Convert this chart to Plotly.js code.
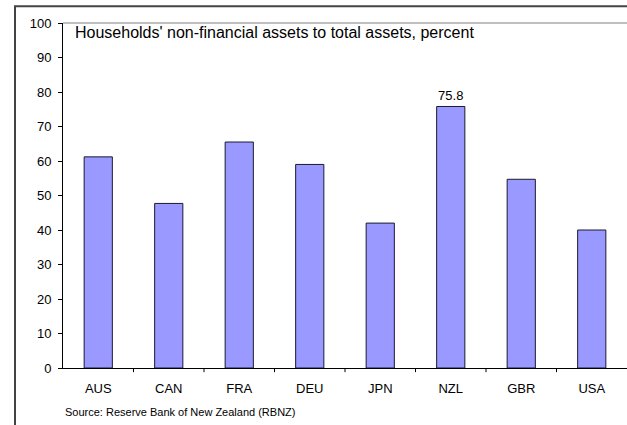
<!DOCTYPE html>
<html>
<head>
<meta charset="utf-8">
<script src="https://cdn.plot.ly/plotly-3.0.1.min.js"></script>
<style>
html,body{margin:0;padding:0;background:#fff;}
#chart{width:627px;height:425px;}
</style>
</head>
<body>
<div id="chart"></div>
<script>
var countries = ['AUS', 'CAN', 'FRA', 'DEU', 'JPN', 'NZL', 'GBR', 'USA'];
var shareNonFinancial = [61.2, 47.7, 65.5, 59.0, 42.0, 75.8, 54.7, 40.0];
var labelledCountry = 'NZL';
var yTicks = [0, 10, 20, 30, 40, 50, 60, 70, 80, 90, 100];
var chartTitle = "Households' non-financial assets to total assets, percent";
var sourceNote = 'Source: Reserve Bank of New Zealand (RBNZ)';

var barLabels = shareNonFinancial.map(function (v, i) {
  return countries[i] === labelledCountry ? v.toFixed(1) : '';
});

var FONT = 'Arial, "Liberation Sans", sans-serif';

var trace = {
  type: 'bar',
  x: countries,
  y: shareNonFinancial,
  width: 0.4,
  marker: { color: '#9999ff', line: { color: '#1a1a33', width: 1 } },
  text: barLabels,
  textposition: 'outside',
  textfont: { family: FONT, size: 13, color: '#000' },
  cliponaxis: false,
  hoverinfo: 'x+y'
};

var layout = {
  width: 627,
  height: 425,
  margin: { l: 63, r: 0, t: 22.7, b: 56.7, pad: 0 },
  paper_bgcolor: '#fff',
  plot_bgcolor: '#fff',
  showlegend: false,
  font: { family: FONT, size: 13, color: '#000' },
  xaxis: {
    type: 'category',
    range: [-0.5, 7.5],
    showline: true, linecolor: '#000', linewidth: 1,
    ticks: '', showgrid: false, zeroline: false,
    tickfont: { family: FONT, size: 13, color: '#000' },
    ticklabelstandoff: 8,
    fixedrange: true
  },
  yaxis: {
    range: [0, 100],
    tickmode: 'array', tickvals: yTicks,
    ticks: 'outside', ticklen: 4, tickcolor: '#000', tickwidth: 1,
    showline: true, linecolor: '#000', linewidth: 1,
    showgrid: false, zeroline: false,
    tickfont: { family: FONT, size: 13, color: '#000' },
    ticklabelstandoff: 4,
    fixedrange: true
  },
  shapes: [
    { type: 'rect', xref: 'paper', yref: 'paper', x0: -0.0851, x1: 1.2, y0: -0.5, y1: 1.0483,
      line: { color: '#444', width: 2 }, layer: 'above' },
    { type: 'line', xref: 'paper', yref: 'paper', x0: 0, x1: 1.02, y0: 1, y1: 1,
      line: { color: '#aaaaaa', width: 1.5 }, layer: 'below' }
  ].concat([0.5, 1.5, 2.5, 3.5, 4.5, 5.5, 6.5].map(function (p) {
    return { type: 'line', xref: 'x', yref: 'paper', x0: p, x1: p, y0: 0, y1: -0.012,
      line: { color: '#000', width: 1 } };
  })),
  annotations: [
    { text: chartTitle, xref: 'paper', yref: 'paper', x: (73 - 63) / 564, y: (368.3 - 32) / 345.6,
      xanchor: 'left', yanchor: 'middle', showarrow: false,
      font: { family: FONT, size: 16, color: '#000' } },
    { text: sourceNote, xref: 'paper', yref: 'paper', x: (63 - 63) / 564, y: (368.3 - 412.5) / 345.6,
      xanchor: 'left', yanchor: 'middle', showarrow: false,
      font: { family: FONT, size: 11, color: '#000' } }
  ]
};

Plotly.newPlot('chart', [trace], layout, { displayModeBar: false, staticPlot: true });
</script>
</body>
</html>
